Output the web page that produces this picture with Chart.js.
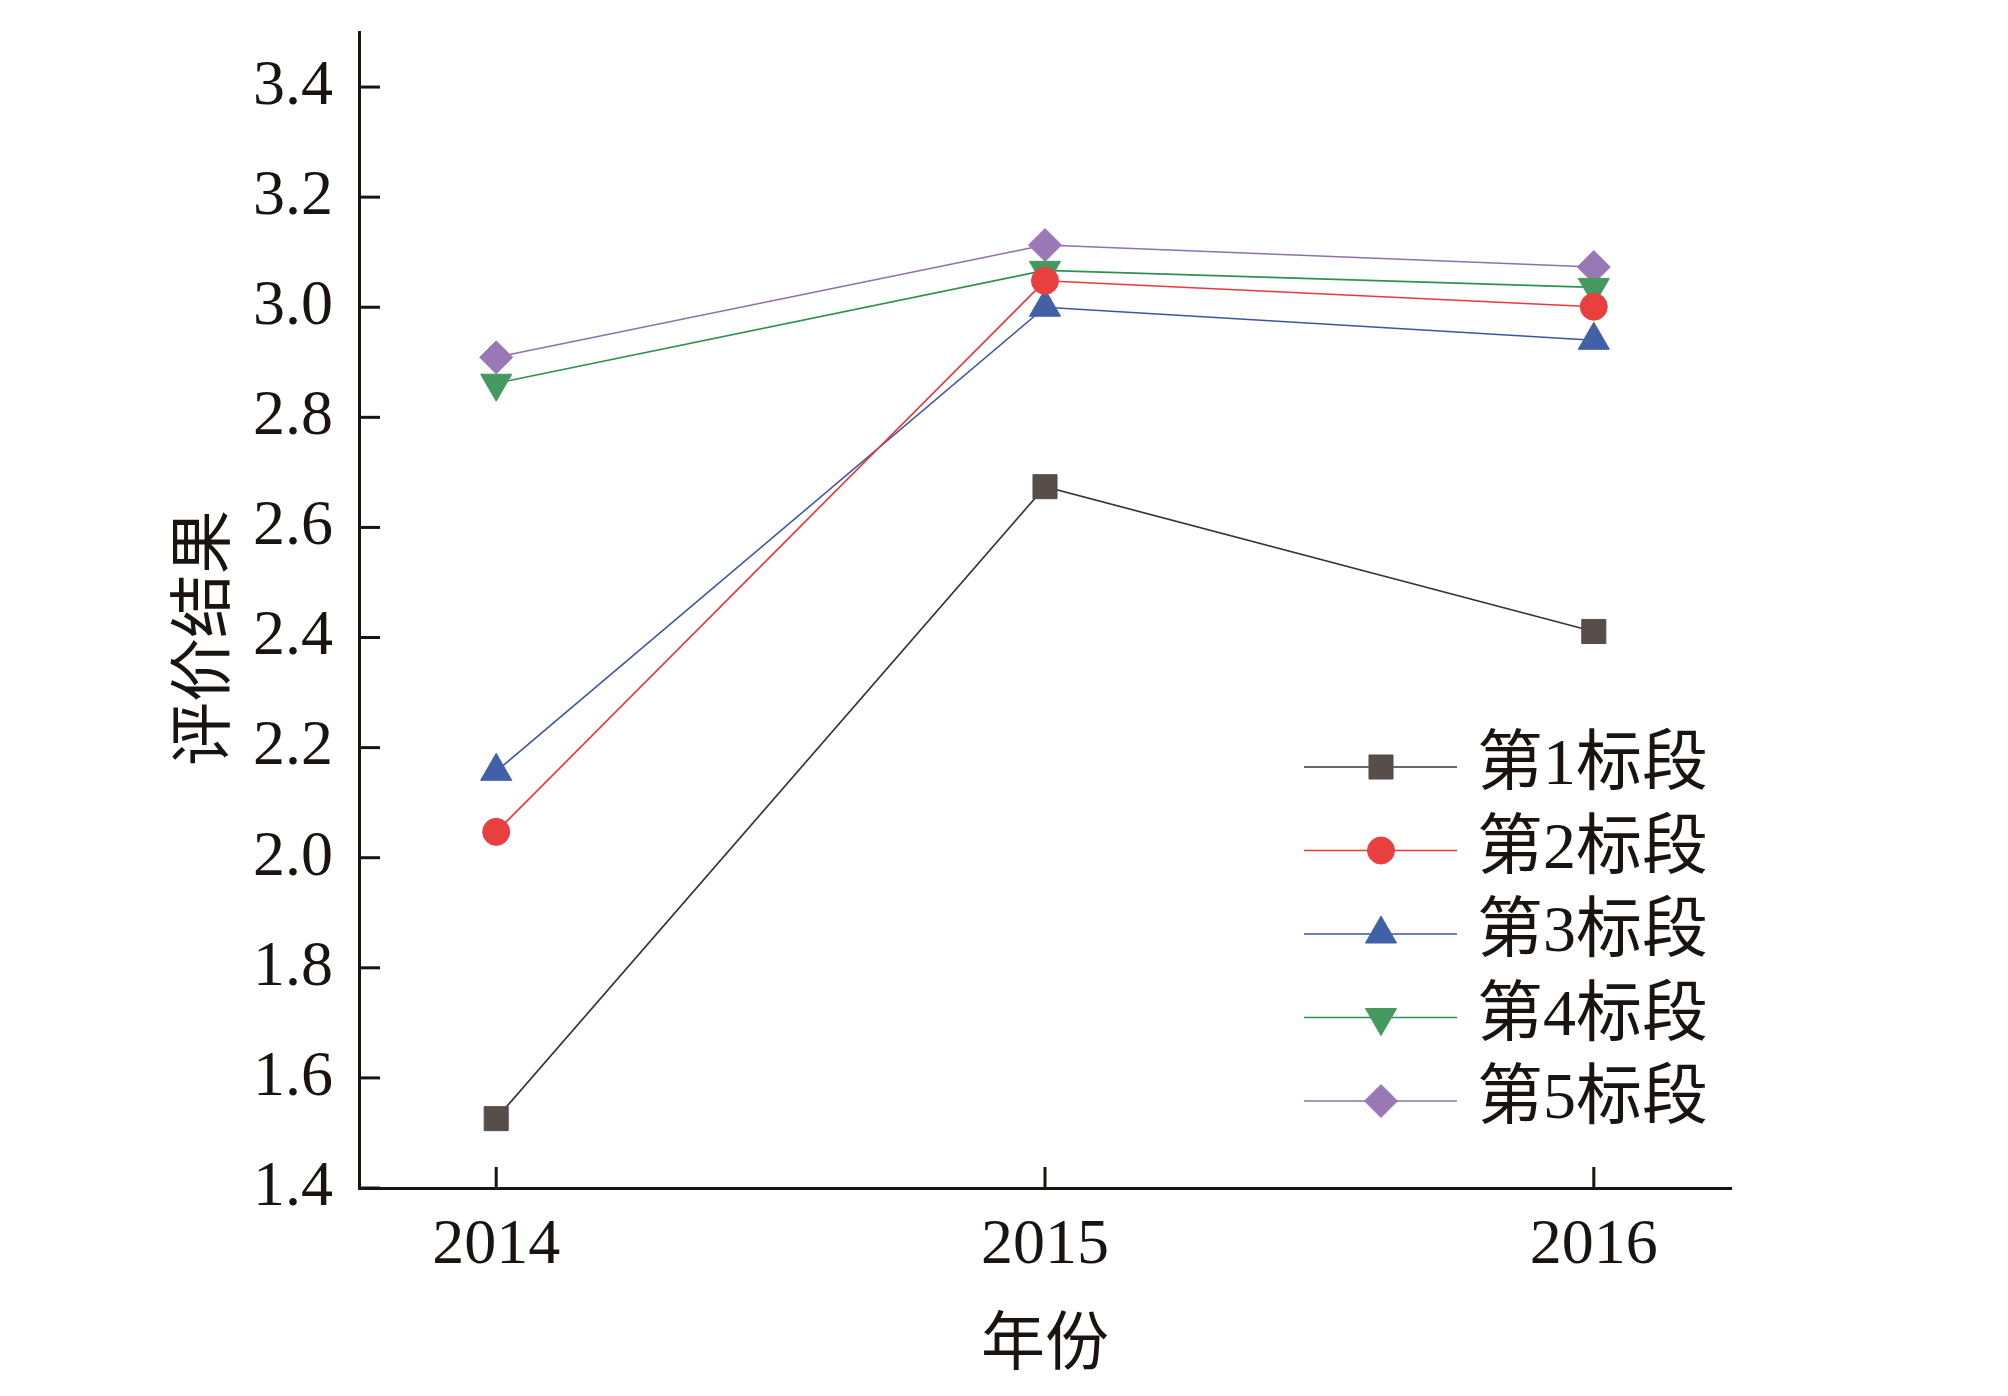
<!DOCTYPE html>
<html>
<head>
<meta charset="utf-8">
<script src="https://cdn.jsdelivr.net/npm/chart.js@4.4.1/dist/chart.umd.min.js"></script>
<style>
  html, body { margin: 0; padding: 0; background: #fff; }
  #wrap { width: 2008px; height: 1396px; }
</style>
</head>
<body>
<div id="wrap"><canvas id="chart" width="2008" height="1396"></canvas></div>
<script>
// data
const years = [2014, 2015, 2016];
const seriesNames = ['第1标段', '第2标段', '第3标段', '第4标段', '第5标段'];
const section1 = [1.526, 2.674, 2.411];
const section2 = [2.047, 3.048, 3.001];
const section3 = [2.157, 3.000, 2.940];
const section4 = [2.862, 3.067, 3.036];
const section5 = [2.909, 3.113, 3.073];
const xTicks = [2014, 2015, 2016];
const yTicks = [1.4, 1.6, 1.8, 2.0, 2.2, 2.4, 2.6, 2.8, 3.0, 3.2, 3.4];
const yTitle = '评价结果';
const xTitle = '年份';

const serif = '"Liberation Serif", "Noto Sans CJK SC", serif';

const styles = [
    { line: '#3a3431', fill: '#574d49', pointStyle: 'rect', radius: 17, rotation: 0 },
    { line: '#e8393b', fill: '#e8403f', pointStyle: 'circle', radius: 13.5, rotation: 0 },
    { line: '#3a55a0', fill: '#4060a8', pointStyle: 'triangle', radius: 18, rotation: 0 },
    { line: '#2f9150', fill: '#43995e', pointStyle: 'triangle', radius: 18, rotation: 180 },
    { line: '#9070ad', fill: '#9a78b5', pointStyle: 'rectRot', radius: 16.5, rotation: 0 }
];

const allSeries = [section1, section2, section3, section4, section5];

const datasets = allSeries.map((vals, i) => ({
    label: seriesNames[i],
    data: years.map((yr, j) => ({ x: yr, y: vals[j] })),
    borderColor: styles[i].line,
    backgroundColor: styles[i].fill,
    borderWidth: 1.6,
    pointStyle: styles[i].pointStyle,
    pointRadius: styles[i].radius,
    pointRotation: styles[i].rotation,
    pointBackgroundColor: styles[i].fill,
    pointBorderColor: styles[i].fill,
    pointBorderWidth: 1,
    tension: 0
}));

// inward tick marks, y title and legend inside the plot
const decorPlugin = {
    id: 'decor',
    afterDraw(chart) {
        const ctx = chart.ctx;
        const area = chart.chartArea;
        const xs = chart.scales.x;
        const ys = chart.scales.y;
        ctx.save();
        ctx.strokeStyle = '#1a1411';
        ctx.lineWidth = 3;
        xTicks.forEach(v => {
            const px = xs.getPixelForValue(v);
            ctx.beginPath();
            ctx.moveTo(px, area.bottom);
            ctx.lineTo(px, area.bottom - 21);
            ctx.stroke();
        });
        yTicks.forEach(v => {
            const py = ys.getPixelForValue(v);
            ctx.beginPath();
            ctx.moveTo(area.left, py);
            ctx.lineTo(area.left + 21, py);
            ctx.stroke();
        });

        // y axis title
        ctx.save();
        ctx.translate(207, 638);
        ctx.rotate(-Math.PI / 2);
        ctx.fillStyle = '#1a1411';
        ctx.font = '64px ' + serif;
        ctx.textAlign = 'center';
        ctx.textBaseline = 'middle';
        ctx.fillText(yTitle, 0, 0);
        ctx.restore();

        // legend
        const lx0 = 1304, lx1 = 1457, mx = 1381, tx = 1477;
        chart.data.datasets.forEach((ds, i) => {
            const y = 767 + i * 83.5;
            ctx.strokeStyle = ds.borderColor;
            ctx.lineWidth = 1.6;
            ctx.beginPath();
            ctx.moveTo(lx0, y);
            ctx.lineTo(lx1, y);
            ctx.stroke();
            ctx.fillStyle = ds.pointBackgroundColor;
            ctx.strokeStyle = ds.pointBorderColor;
            ctx.lineWidth = 1;
            Chart.helpers.drawPoint(ctx, {
                pointStyle: ds.pointStyle,
                radius: ds.pointRadius,
                rotation: ds.pointRotation,
                borderWidth: 1
            }, mx, y);
            ctx.fillStyle = '#1a1411';
            ctx.font = '66px ' + serif;
            ctx.textAlign = 'left';
            ctx.textBaseline = 'middle';
            ctx.fillText(ds.label, tx, y);
        });
        ctx.restore();
    }
};

new Chart(document.getElementById('chart'), {
    type: 'line',
    data: { datasets: datasets },
    plugins: [decorPlugin],
    options: {
        responsive: false,
        devicePixelRatio: 1,
        animation: false,
        layout: { padding: { top: 32, right: 277, left: 0, bottom: 0 } },
        plugins: {
            legend: { display: false },
            tooltip: { enabled: false }
        },
        scales: {
            x: {
                type: 'linear',
                min: 2013.75,
                max: 2016.25,
                afterBuildTicks: s => { s.ticks = xTicks.map(v => ({ value: v })); },
                afterFit: s => { s.height = 208; s.paddingLeft = 0; s.paddingRight = 0; },
                grid: { display: false, drawTicks: false },
                border: { display: true, color: '#1a1411', width: 3 },
                ticks: {
                    padding: 20,
                    color: '#1a1411',
                    font: { family: serif, size: 64 },
                    callback: v => String(v)
                },
                title: {
                    display: true,
                    text: xTitle,
                    color: '#1a1411',
                    font: { family: serif, size: 64 },
                    padding: { top: 0, bottom: 10 }
                }
            },
            y: {
                type: 'linear',
                min: 1.4,
                max: 3.5,
                afterBuildTicks: s => { s.ticks = yTicks.map(v => ({ value: v })); },
                afterFit: s => { s.width = 359; s.paddingTop = 0; s.paddingBottom = 0; },
                grid: { display: false, drawTicks: false },
                border: { display: true, color: '#1a1411', width: 3 },
                ticks: {
                    padding: 26,
                    color: '#1a1411',
                    font: { family: serif, size: 64 },
                    callback: v => v.toFixed(1)
                }
            }
        }
    }
});
</script>
</body>
</html>
